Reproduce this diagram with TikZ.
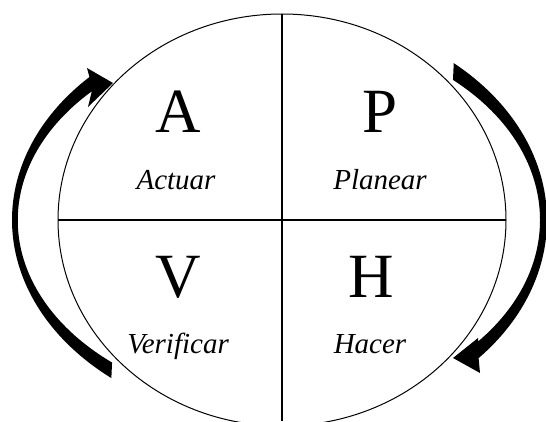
\documentclass[tikz,border=0pt]{standalone}
\usepackage{fontspec}
\setmainfont{Liberation Serif}
\begin{document}
\begin{tikzpicture}[x=1pt,y=1pt,
    letra/.style={anchor=base,font=\fontsize{63}{63}\selectfont},
    verbo/.style={anchor=base,font=\fontsize{29}{29}\selectfont\itshape}]
            \def\rx{224pt}
            \def\ry{206pt}
            \useasboundingbox (0,0) rectangle (546,421);
            \clip (0,0) rectangle (546,421);
            \coordinate (C) at (282,201);
            \coordinate (N) at (282,407);
            \coordinate (S) at (282,0);
            \coordinate (W) at (58,201);
            \coordinate (E) at (506,201);
            % circulo y cuadrantes
            \draw[line width=1pt] (C) ellipse[x radius=\rx, y radius=\ry];
            \draw[line width=1.3pt] (N)--(S);
            \draw[line width=1.3pt] (W)--(E);
            % flecha izquierda (sube)
            \fill (C) ++(230.8:270pt and 204pt)
                arc[start angle=230.8,end angle=135.5,x radius=270pt,y radius=204pt]
                -- (87,353) -- (113,338) -- (88,314) -- (91.8,329.7)
                arc[start angle=136.1,end angle=229.9,x radius=265pt,y radius=186pt]
                -- cycle;
            % flecha derecha (baja)
            \fill (C) ++(49.6:265pt and 206pt)
                arc[start angle=49.6,end angle=-42.1,x radius=265pt,y radius=206pt]
                -- (480,48) -- (453,63) -- (478,83) -- (478.2,79.6)
                arc[start angle=-40.5,end angle=48.5,x radius=258pt,y radius=187pt]
                -- cycle;
            % letras
            \node[letra] (A) at (178,288) {A};
            \node[letra] (P) at (380,288) {P};
            \node[letra] (V) at (178,124) {V};
            \node[letra] (H) at (371,124) {H};
            \node[verbo] (actuar) at (176,231) {Actuar};
            \node[verbo] (planear) at (380,231) {Planear};
            \node[verbo] (verificar) at (178,68) {Verificar};
            \node[verbo] (hacer) at (370,68) {Hacer};
        \end{tikzpicture}
\end{document}
